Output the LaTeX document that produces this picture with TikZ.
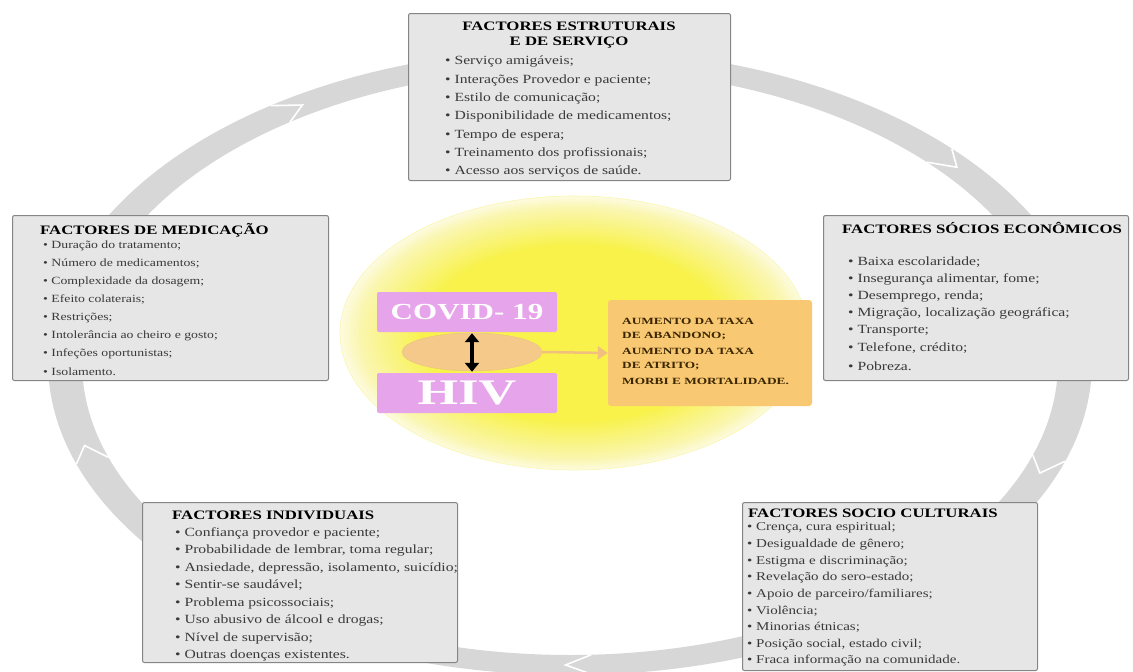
\documentclass[tikz,border=0pt]{standalone}
\usepackage{fontspec}
\setmainfont{Liberation Serif}
\newfontfamily\itemfont[FakeStretch=1.25]{Liberation Serif}
\newfontfamily\headfont[FakeStretch=1.3]{Liberation Serif}
\newfontfamily\covidfont[FakeStretch=1.35]{Liberation Serif}
\newfontfamily\hivfont[FakeStretch=1.45]{Liberation Serif}
\newfontfamily\orangefont[FakeStretch=1.4]{Liberation Serif}
\usetikzlibrary{arrows.meta,shapes.geometric}
\definecolor{ringgray}{HTML}{D7D7D7}
\definecolor{boxfill}{HTML}{E6E6E6}
\definecolor{boxborder}{HTML}{858585}
\definecolor{itemcol}{HTML}{3A3A3A}
\definecolor{ylw}{HTML}{F8F24A}
\definecolor{ylwedge}{HTML}{FAF6B0}
\definecolor{ylwout}{HTML}{FDFBE0}
\definecolor{pinkbox}{HTML}{E6A4EA}
\definecolor{orangebox}{HTML}{F9C872}
\definecolor{orangeell}{HTML}{F4C98A}
\definecolor{orangearrow}{HTML}{F2C07E}
\definecolor{orangetext}{HTML}{3A2600}
\pgfdeclareradialshading{yellowglow}{\pgfpoint{0bp}{0bp}}{color(0bp)=(ylw); color(16bp)=(ylw); color(23bp)=(ylwedge); color(25bp)=(ylwout); color(50bp)=(ylwout)}
\tikzset{
  factorbox/.style={draw=boxborder, fill=boxfill, line width=1pt, rounded corners=2pt, inner sep=0pt, anchor=north west},
  headtext/.style={font=\headfont\bfseries\fontsize{12.9}{15}\selectfont, inner sep=0pt, text=black},
  itemtext/.style={font=\itemfont\fontsize{12.5}{15}\selectfont, inner sep=0pt, anchor=west, text=itemcol},
  smallitem/.style={itemtext, font=\itemfont\fontsize{11}{14}\selectfont},
  mediumitem/.style={itemtext, font=\itemfont\fontsize{12}{14}\selectfont},
  chevron/.style={draw=white, line width=1.6pt, line join=miter},
  pinkstyle/.style={fill=pinkbox, draw=none, rounded corners=2pt, text=white, minimum width=180pt, minimum height=40pt, inner sep=0pt},
  otext/.style={font=\orangefont\bfseries\fontsize{9.5}{12}\selectfont, text=orangetext, inner sep=0pt, anchor=west},
  dblarrow/.style={line width=4.5pt, black, {Triangle[length=9pt,width=14pt]}-{Triangle[length=9pt,width=14pt]}, shorten <=1pt, shorten >=1pt},
  oarrow/.style={line width=2.5pt, orangearrow, -{Triangle[length=10pt,width=13pt]}}
}
\begin{document}
\begin{tikzpicture}[x=1pt,y=-1pt]
\useasboundingbox (0,0) rectangle (1133,672);
% ring
\fill[ringgray, even odd rule] (570,362) ellipse [x radius=522, y radius=313] (570,362) ellipse [x radius=488, y radius=293];
\foreach \a in {122,40,-21.5,-90.5,196}{
  \draw[chevron] ({570+488*cos(\a+3)},{362-293*sin(\a+3)}) -- ({570+505*cos(\a)},{362-303*sin(\a)}) -- ({570+522*cos(\a+3)},{362-313*sin(\a+3)});
}
% centre
\node[ellipse, shading=yellowglow, draw=ylwedge, line width=0.6pt, minimum width=468pt, minimum height=274pt, inner sep=0pt] (glow) at (574,333) {};
\node[ellipse, fill=orangeell, draw=orangeell!80!black!20!orangeell, minimum width=140pt, minimum height=38pt, inner sep=0pt] (orel) at (472,352) {};
\node[pinkstyle, font=\covidfont\bfseries\fontsize{23}{26}\selectfont] (covid) at (467,312) {COVID- 19};
\node[pinkstyle, font=\hivfont\bfseries\fontsize{36}{40}\selectfont] (hiv) at (467,393) {HIV};
\node[fill=orangebox, draw=none, rounded corners=3pt, minimum width=204pt, minimum height=106pt, inner sep=0pt] (obox) at (710,353) {};
\foreach \t [count=\i from 0] in {AUMENTO DA TAXA, DE ABANDONO;, AUMENTO DA TAXA, DE ATRITO;, MORBI E MORTALIDADE.}{
  \node[otext] (ot-\i) at (622,{321+15*\i}) {\t};
}
\draw[dblarrow] ([xshift=5pt]covid.south) -- ([xshift=5pt]hiv.north);
\draw[oarrow] (orel.east) -- (obox.west);
% top box
\node[factorbox, minimum width=322pt, minimum height=167pt] (struct) at (408,13) {};
\node[headtext] (struct-h1) at (569,26) {FACTORES ESTRUTURAIS};
\node[headtext] (struct-h2) at (569,43) {E DE SERVIÇO};
\foreach \t [count=\i from 0] in {Serviço amigáveis;, Interações Provedor e paciente;, Estilo de comunicação;, Disponibilidade de medicamentos;, Tempo de espera;, Treinamento dos profissionais;, Acesso aos serviços de saúde.}{
  \node[itemtext] (struct-\i) at (445,{62+18.3*\i}) {• \t};
}
% left box
\node[factorbox, minimum width=316pt, minimum height=165pt] (medic) at (12,215) {};
\node[headtext, anchor=west] (medic-h) at (40,230) {FACTORES DE MEDICAÇÃO};
\foreach \t [count=\i from 0] in {Duração do tratamento;, Número de medicamentos;, Complexidade da dosagem;, Efeito colaterais;, Restrições;, Intolerância ao cheiro e gosto;, Infeções oportunistas;, Isolamento.}{
  \node[smallitem] (medic-\i) at (43,{246+17.9*\i}) {• \t};
}
% right box
\node[factorbox, minimum width=305pt, minimum height=165pt] (socioeco) at (823,215) {};
\node[headtext, anchor=west] (socioeco-h) at (842,228) {FACTORES SÓCIOS ECONÔMICOS};
\foreach \t [count=\i from 0] in {Baixa escolaridade;, {Insegurança alimentar, fome;}, {Desemprego, renda;}, {Migração, localização geográfica;}, Transporte;, {Telefone, crédito;}, Pobreza.}{
  \node[itemtext] (socioeco-\i) at (848,{262+17.3*\i}) {• \t};
}
% bottom left box
\node[factorbox, minimum width=315pt, minimum height=160pt] (indiv) at (142,502) {};
\node[headtext, anchor=west] (indiv-h) at (172,515) {FACTORES INDIVIDUAIS};
\foreach \t [count=\i from 0] in {Confiança provedor e paciente;, {Probabilidade de lembrar, toma regular;}, {Ansiedade, depressão, isolamento, suicídio;}, Sentir-se saudável;, Problema psicossociais;, Uso abusivo de álcool e drogas;, Nível de supervisão;, Outras doenças existentes.}{
  \node[itemtext] (indiv-\i) at (175,{533+17.5*\i}) {• \t};
}
% bottom right box
\node[factorbox, minimum width=295pt, minimum height=168pt] (sociocult) at (742,502) {};
\node[headtext, anchor=west] (sociocult-h) at (748,513) {FACTORES SOCIO CULTURAIS};
\foreach \t [count=\i from 0] in {{Crença, cura espiritual;}, Desigualdade de gênero;, Estigma e discriminação;, Revelação do sero-estado;, Apoio de parceiro/familiares;, Violência;, Minorias étnicas;, {Posição social, estado civil;}, Fraca informação na comunidade.}{
  \node[mediumitem] (sociocult-\i) at (747,{528+16.6*\i}) {• \t};
}
\end{tikzpicture}
\end{document}
